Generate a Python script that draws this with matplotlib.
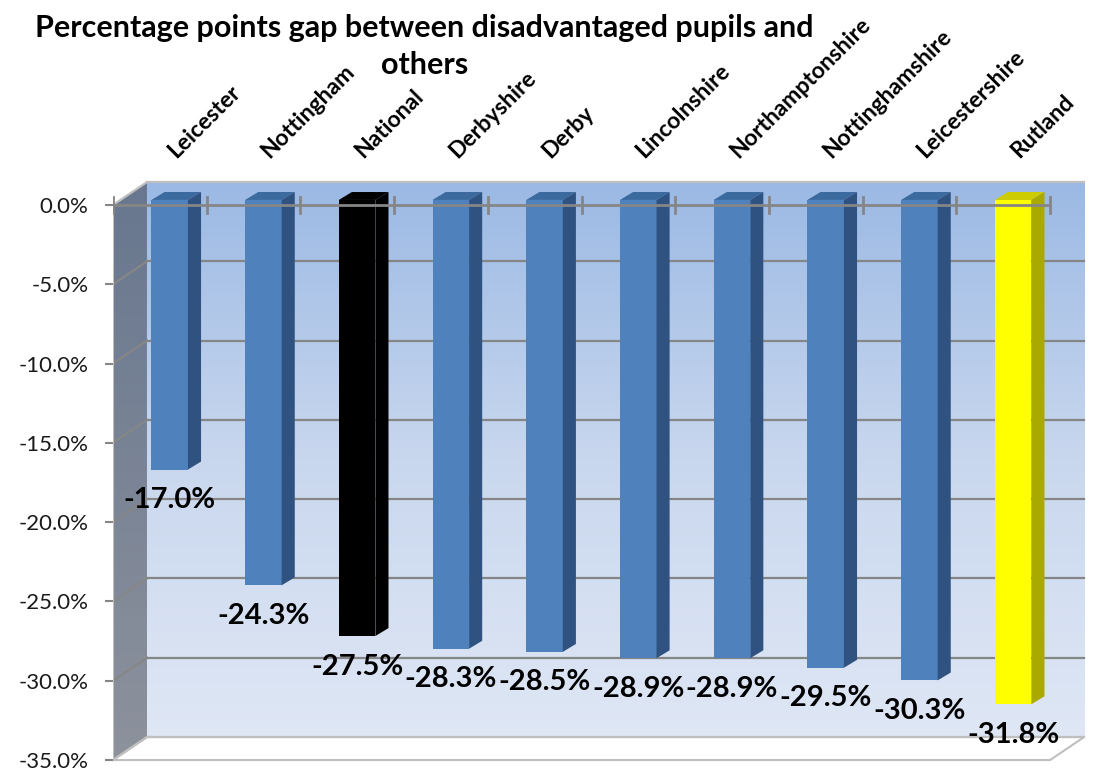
"""
Percentage points gap between disadvantaged pupils and others - 3D style column chart.
"""

import numpy as np
import matplotlib
matplotlib.use("Agg")
import matplotlib.pyplot as plt
from matplotlib.patches import Polygon
from matplotlib.colors import LinearSegmentedColormap

plt.rcParams['font.family'] = ['Lato', 'DejaVu Sans']

# data
areas = ["Leicester", "Nottingham", "National", "Derbyshire", "Derby",
         "Lincolnshire", "Northamptonshire", "Nottinghamshire",
         "Leicestershire", "Rutland"]
gap = [-17.0, -24.3, -27.5, -28.3, -28.5, -28.9, -28.9, -29.5, -30.3, -31.8]
y_ticks = [0, -5, -10, -15, -20, -25, -30, -35]

# colours (front, side, top)
BLUE = ("#4F81BD", "#2F5280", "#3B6A9F")
BLACK = ("#000000", "#000000", "#000000")
YELLOW = ("#FFFF00", "#A9A900", "#CCCC00")


def bar_colours(name):
    if name == "National":
        return BLACK
    if name == "Rutland":
        return YELLOW
    return BLUE


# 3D look: offset of the back wall and bar geometry (data units)
DX, DY = 0.363, 1.45
YMIN = y_ticks[-1]
BX, FW = 0.41, 0.39      # bar front face left offset and width
SX, SY = 0.14, 0.5       # bar depth
FY = 0.32                # front face shifted up a little
GRID = "#868686"
EDGE = "#BFBFBF"

n = len(areas)

fig = plt.figure(figsize=(11.14, 7.71), dpi=100)
ax = fig.add_axes([0.1014, 0.006, 0.8833, 0.7651])

# back wall with gradient
back_cmap = LinearSegmentedColormap.from_list("back", ["#DFE7F5", "#C9D7EE", "#9BB9E4"])
grad = np.linspace(0, 1, 256).reshape(-1, 1)
ax.imshow(grad, cmap=back_cmap, origin="lower", aspect="auto",
          extent=(DX, n + DX, YMIN + DY, DY), zorder=0)

# left side wall
side_cmap = LinearSegmentedColormap.from_list("side", ["#8D929C", "#7A8496", "#68778F"])
side_poly = Polygon([(0, 0), (DX, DY), (DX, YMIN + DY), (0, YMIN)],
                    closed=True, facecolor="none", edgecolor="none")
ax.add_patch(side_poly)
im = ax.imshow(grad, cmap=side_cmap, origin="lower", aspect="auto",
               extent=(0, DX, YMIN, DY), zorder=0)
im.set_clip_path(side_poly)

# floor
ax.add_patch(Polygon([(0, YMIN), (n, YMIN), (n + DX, YMIN + DY), (DX, YMIN + DY)],
                     closed=True, facecolor="white", edgecolor=EDGE, lw=1.5, zorder=1))

# gridlines on back wall and side wall
for t in y_ticks:
    col = GRID if YMIN < t < 0 else EDGE
    ax.plot([DX, n + DX], [t + DY, t + DY], color=col, lw=1.6, zorder=1)
    ax.plot([0, DX], [t, t + DY], color=col, lw=1.6, zorder=1)
ax.plot([0, 0], [0, YMIN], color=EDGE, lw=1.5, zorder=1)

# bars
xs = np.arange(n) + BX
fronts = [bar_colours(a)[0] for a in areas]
ax.bar(xs, gap, width=FW, bottom=FY, align="edge", color=fronts, zorder=3)
for x, v, a in zip(xs, gap, areas):
    _, side, top = bar_colours(a)
    ax.add_patch(Polygon([(x, FY), (x + FW, FY), (x + FW + SX, FY + SY), (x + SX, FY + SY)],
                         closed=True, facecolor=top, edgecolor="none", zorder=3))
    ax.add_patch(Polygon([(x + FW, FY), (x + FW + SX, FY + SY),
                          (x + FW + SX, v + FY + SY), (x + FW, v + FY)],
                         closed=True, facecolor=side, edgecolor="none", zorder=3))
    ax.annotate(f"{v:.1f}%", (x + FW / 2, v + FY), xytext=(0, -22),
                textcoords="offset points", ha="center", va="center",
                fontsize=21, fontweight="bold", zorder=6, annotation_clip=False)

# category axis line at 0 with tick marks (drawn in front of bars)
ax.plot([0, n], [0, 0], color=GRID, lw=2, zorder=5)
for k in range(n + 1):
    ax.plot([k, k], [-0.53, 0.53], color=GRID, lw=2, zorder=5)

# category labels along the top
for i, name in enumerate(areas):
    ax.text(i + 0.67, 2.9, name, rotation=45, rotation_mode="anchor",
            ha="left", va="baseline", fontsize=16.5, fontweight="bold",
            clip_on=False)

ax.set_xlim(0, 10.5)
ax.set_ylim(-35.4, 1.8)
ax.set_yticks(y_ticks)
ax.set_yticklabels([f"{t:.1f}%" for t in y_ticks])
ax.tick_params(axis="y", length=5.5, width=1.5, color=GRID, pad=12,
               labelsize=16, labelcolor="#1A1A1A")
ax.set_xticks([])
for s in ax.spines.values():
    s.set_visible(False)
ax.patch.set_alpha(0)

fig.text(0.381, 0.982, "Percentage points gap between disadvantaged pupils and\nothers",
         ha="center", va="top", fontsize=22, fontweight="bold", linespacing=1.4)

fig.savefig("out.png", dpi=100)
